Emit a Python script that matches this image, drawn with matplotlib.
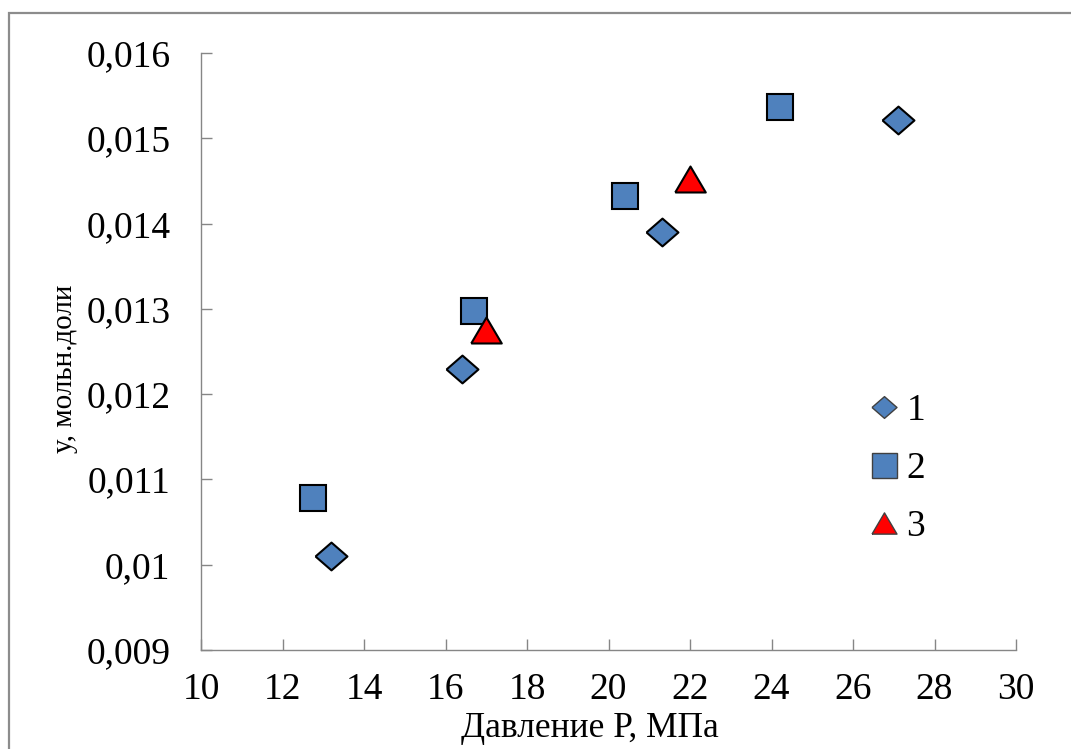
"""
Растворимость: мольная доля у в зависимости от давления Р.
Три серии экспериментальных точек (1, 2, 3), оформление в стиле Excel.
"""

import matplotlib.pyplot as plt
import matplotlib.ticker as ticker
from matplotlib.lines import Line2D
from matplotlib.patches import Rectangle

# ── Data ──────────────────────────────────────────────────────────────────────
P_SERIES_1 = [13.2, 16.4, 21.3, 27.1]
Y_SERIES_1 = [0.0101, 0.0123, 0.0139, 0.01521]

P_SERIES_2 = [12.75, 16.7, 20.4, 24.2]
Y_SERIES_2 = [0.01078, 0.01297, 0.01432, 0.01537]

P_SERIES_3 = [17.0, 22.0]
Y_SERIES_3 = [0.01275, 0.01452]

SERIES_LABELS = ["1", "2", "3"]
X_TICKS = list(range(10, 31, 2))
Y_TICKS = [0.009, 0.010, 0.011, 0.012, 0.013, 0.014, 0.015, 0.016]

# ── Style ─────────────────────────────────────────────────────────────────────
DPI      = 100
FIG_SIZE = (10.71, 7.49)
FONT     = "Liberation Serif"

BLUE  = "#4F81BD"
RED   = "#FF0000"
SPINE = "#868686"

# custom shapes: diamond a bit wider than tall, triangle a bit wider than tall
DIAMOND  = [(-1, 0), (0, 0.87), (1, 0), (0, -0.87), (-1, 0)]
TRIANGLE = [(-1, -0.85), (1, -0.85), (0, 0.85), (-1, -0.85)]


def comma_fmt(v, _pos):
    s = f"{v:.3f}".rstrip("0")
    return s.replace(".", ",")


def main():
    plt.rcParams["font.family"] = FONT
    fig = plt.figure(figsize=FIG_SIZE, dpi=DPI)
    ax = fig.add_axes([0.1877, 0.1322, 0.7610, 0.7970])

    # chart frame (gray border, runs off the right/bottom edge)
    fig.patches.append(Rectangle((0.0084, -0.05), 1.1, 0.9826 + 0.05,
                                 transform=fig.transFigure, fill=False,
                                 ec="#8C8C8C", lw=1.6, clip_on=False))

    ax.plot(P_SERIES_1, Y_SERIES_1, ls="none", marker=DIAMOND, ms=23,
            mfc=BLUE, mec="black", mew=1.5, zorder=3)
    ax.plot(P_SERIES_2, Y_SERIES_2, ls="none", marker="s", ms=19,
            mfc=BLUE, mec="black", mew=1.5, zorder=3)
    ax.plot(P_SERIES_3, Y_SERIES_3, ls="none", marker=TRIANGLE, ms=22,
            mfc=RED, mec="black", mew=1.5, zorder=4)

    ax.set_xlim(10, 30)
    ax.set_ylim(0.009, 0.016)
    ax.set_xticks(X_TICKS)
    ax.set_yticks(Y_TICKS)
    ax.yaxis.set_major_formatter(ticker.FuncFormatter(comma_fmt))

    for side in ("top", "right"):
        ax.spines[side].set_visible(False)
    for side in ("left", "bottom"):
        ax.spines[side].set_color(SPINE)
        ax.spines[side].set_linewidth(1.0)

    ax.tick_params(axis="both", direction="in", length=8, width=1.0,
                   color=SPINE, labelsize=27, labelcolor="black")
    ax.tick_params(axis="x", pad=16)
    ax.tick_params(axis="y", pad=22)

    ax.set_xlabel("Давление Р, МПа", fontsize=25.5, labelpad=0)
    ax.set_ylabel("у, мольн.доли", fontsize=21)
    ax.xaxis.set_label_coords(0.477, -0.104)
    ax.yaxis.set_label_coords(-0.151, 0.471)

    handles = [
        Line2D([], [], ls="none", marker=DIAMOND, ms=18, mfc=BLUE,
               mec="#404040", mew=1.0),
        Line2D([], [], ls="none", marker="s", ms=18, mfc=BLUE,
               mec="#404040", mew=1.0),
        Line2D([], [], ls="none", marker=TRIANGLE, ms=18, mfc=RED,
               mec="#404040", mew=1.0),
    ]
    fig.legend(handles, SERIES_LABELS, loc="upper left",
               bbox_to_anchor=(865 / 1071, 1 - 394 / 749),
               frameon=False, fontsize=27, borderpad=0, borderaxespad=0,
               handlelength=1.0, handletextpad=0.1, labelspacing=0.62)

    fig.savefig("out.png", dpi=DPI)
    plt.close(fig)


if __name__ == "__main__":
    main()
